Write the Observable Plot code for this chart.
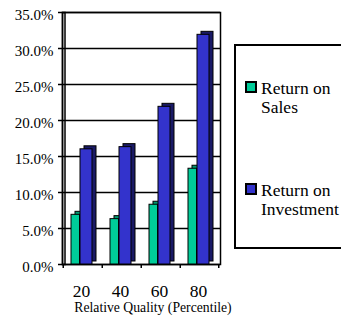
<!DOCTYPE html>
<html>
<head>
<meta charset="utf-8">
<script src="https://cdn.jsdelivr.net/npm/d3@7"></script>
<script src="https://cdn.jsdelivr.net/npm/@observablehq/plot@0.6"></script>
<style>
  html, body { margin: 0; padding: 0; background: white; }
  #wrap { position: relative; width: 341px; height: 320px; overflow: hidden; }
  #legend { position: absolute; left: 0; top: 0; }
</style>
</head>
<body>
<div id="wrap"></div>
<script>
const categories = ["20", "40", "60", "80"];
const returnOnSales = [0.069, 0.063, 0.083, 0.133];
const returnOnInvestment = [0.160, 0.163, 0.219, 0.319];
const yTicks = [0, 0.05, 0.10, 0.15, 0.20, 0.25, 0.30, 0.35];
const seriesLines = [["Return on", "Sales"], ["Return on", "Investment"]];
const colors = ["#00CC99", "#3333CC"];
const sideColors = ["#009970", "#1a1a66"];
const xTitle = "Relative Quality (Percentile)";

const sales = categories.map((c, i) => ({cat: c, v: returnOnSales[i]}));
const inv = categories.map((c, i) => ({cat: c, v: returnOnInvestment[i]}));

const W = 341, H = 320, mL = 62, mR = 121, mT = 12, mB = 56;
const bw = (W - mL - mR) / categories.length;
const serif = "'Liberation Serif', 'Times New Roman', serif";

const plot = Plot.plot({
  width: W, height: H,
  marginLeft: mL, marginRight: mR, marginTop: mT, marginBottom: mB,
  style: {fontFamily: serif, color: "black", background: "white"},
  x: {domain: categories, paddingInner: 0, paddingOuter: 0, axis: null, label: null},
  y: {domain: [0, 0.35], axis: null, label: null},
  marks: [
    Plot.ruleY(yTicks, {stroke: "black", strokeWidth: 1.5}),
    Plot.frame({stroke: "black", strokeWidth: 1.5}),
    // depth faces
    Plot.barY(sales, {x: "cat", y: "v", fill: sideColors[0], stroke: "black", strokeWidth: 1, insetLeft: 8, insetRight: bw - 17, dx: 4, dy: -3}),
    Plot.barY(sales, {x: "cat", y: "v", fill: colors[0], stroke: "black", strokeWidth: 1, insetLeft: 8, insetRight: bw - 17}),
    Plot.barY(inv, {x: "cat", y: "v", fill: sideColors[1], stroke: "black", strokeWidth: 1, insetLeft: 17, insetRight: bw - 29.5, dx: 4, dy: -3}),
    Plot.barY(inv, {x: "cat", y: "v", fill: colors[1], stroke: "black", strokeWidth: 1, insetLeft: 17, insetRight: bw - 29.5}),
    // left axis wall
    Plot.frame({stroke: "black", strokeWidth: 1.5, insetRight: bw * categories.length - 2.5}),
    // y axis
    Plot.axisY({ticks: yTicks, tickSize: 4, tickFormat: () => "", stroke: "black", strokeWidth: 1.5, label: null}),
    Plot.axisY({ticks: yTicks, tickSize: 0, tickPadding: 9, tickFormat: d3.format(".1%"), fontSize: 15, dy: 3, label: null}),
    // x axis boundary ticks
    Plot.axisX({tickSize: 4, tickFormat: () => "", dx: -bw / 2, stroke: "black", strokeWidth: 1.5, label: null}),
    Plot.axisX({ticks: categories.slice(-1), tickSize: 4, tickFormat: () => "", dx: bw / 2 - 1, stroke: "black", strokeWidth: 1.5, label: null}),
    Plot.axisX({tickSize: 0, tickPadding: 20, fontSize: 17.5, dx: -1.5, label: null}),
    Plot.text([xTitle], {text: d => d, frameAnchor: "bottom", dx: 11.5, dy: 47, fontSize: 13.7, fill: "black"})
  ]
});

const wrap = document.getElementById("wrap");
wrap.appendChild(plot);

// legend drawn as an SVG overlay
const lg = d3.select(wrap).append("svg")
  .attr("id", "legend")
  .attr("width", W).attr("height", H)
  .style("font-family", serif);
lg.append("rect")
  .attr("x", 235).attr("y", 45).attr("width", 130).attr("height", 203)
  .attr("fill", "none").attr("stroke", "black").attr("stroke-width", 2);
const itemTop = [82, 184];
seriesLines.forEach((lines, i) => {
  lg.append("rect")
    .attr("x", 246).attr("y", itemTop[i]).attr("width", 10).attr("height", 10)
    .attr("fill", colors[i]).attr("stroke", "black").attr("stroke-width", 2);
  const t = lg.append("text")
    .attr("x", 261).attr("y", itemTop[i] + 12)
    .attr("font-size", 17.5).attr("fill", "black");
  lines.forEach((ln, j) => {
    t.append("tspan").attr("x", 261).attr("dy", j === 0 ? 0 : 19).text(ln);
  });
});
</script>
</body>
</html>
